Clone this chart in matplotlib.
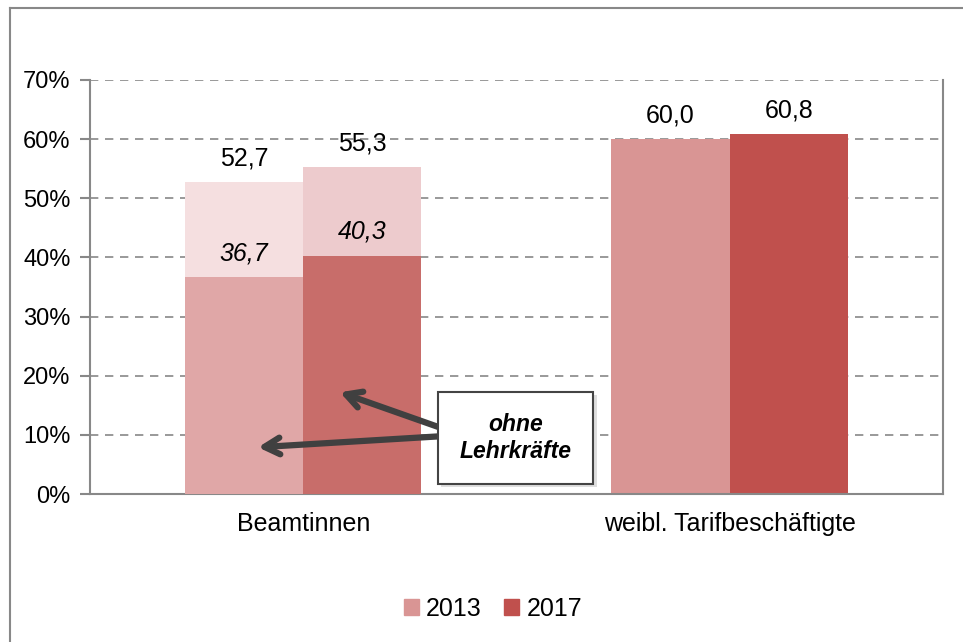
import matplotlib
matplotlib.use('Agg')
import matplotlib.pyplot as plt
from matplotlib.patches import Patch, Rectangle
from matplotlib.lines import Line2D
from matplotlib.ticker import FuncFormatter

plt.rcParams['font.family'] = ['Liberation Sans', 'DejaVu Sans']

# Daten
kategorien = ['Beamtinnen', 'weibl. Tarifbeschäftigte']
jahre = ['2013', '2017']
gesamt_2013 = [52.7, 60.0]
gesamt_2017 = [55.3, 60.8]
ohne_lehr_2013 = [36.7, None]
ohne_lehr_2017 = [40.3, None]

farbe_2013 = '#D99594'
farbe_2017 = '#C0504D'

fig = plt.figure(figsize=(9.63, 6.42), dpi=100)
ax = fig.add_axes([0.0935, 0.2305, 0.8855, 0.6449])

breite = 0.277
x = [0, 1]

# Beamtinnen: gesamt hell, ohne Lehrkraefte darueber
ax.bar(x[0] - breite/2, gesamt_2013[0], breite, color='#F5DFE0', zorder=2)
ax.bar(x[0] + breite/2, gesamt_2017[0], breite, color='#EDCBCD', zorder=2)
ax.bar(x[0] - breite/2, ohne_lehr_2013[0], breite, color='#E0A7A7', zorder=3)
ax.bar(x[0] + breite/2, ohne_lehr_2017[0], breite, color='#C86D6A', zorder=3)
# Tarifbeschaeftigte
ax.bar(x[1] - breite/2, gesamt_2013[1], breite, color=farbe_2013, zorder=2)
ax.bar(x[1] + breite/2, gesamt_2017[1], breite, color=farbe_2017, zorder=2)

def fmt(v):
    return f"{v:.1f}".replace('.', ',')

for i in range(2):
    ax.text(x[i] - breite/2, gesamt_2013[i] + 4.0, fmt(gesamt_2013[i]),
            ha='center', va='center', fontsize=18)
    ax.text(x[i] + breite/2, gesamt_2017[i] + 4.0, fmt(gesamt_2017[i]),
            ha='center', va='center', fontsize=18)
ax.text(x[0] - breite/2, ohne_lehr_2013[0] + 4.0, fmt(ohne_lehr_2013[0]),
        ha='center', va='center', fontsize=18, style='italic')
ax.text(x[0] + breite/2, ohne_lehr_2017[0] + 4.0, fmt(ohne_lehr_2017[0]),
        ha='center', va='center', fontsize=18, style='italic')

ax.set_xlim(-0.5, 1.5)
ax.set_ylim(0, 70)
ax.set_yticks(range(0, 71, 10))
ax.yaxis.set_major_formatter(FuncFormatter(lambda v, p: f"{int(v)}%"))
ax.set_xticks(x)
ax.set_xticklabels(kategorien)
ax.tick_params(axis='x', length=0, pad=13, labelsize=18)
ax.tick_params(axis='y', length=7, color='#888888', width=1.5, labelsize=17, pad=7)
ax.yaxis.grid(True, color='#888888', linestyle=(0, (5, 4)), linewidth=1.2, zorder=0)
ax.set_axisbelow(True)
for s in ['left', 'right', 'bottom']:
    ax.spines[s].set_color('#888888')
    ax.spines[s].set_linewidth(1.5)
ax.spines['top'].set_visible(False)

# Pfeile und Kasten
pfeil = dict(arrowstyle='->,head_length=1.1,head_width=0.6', color='#404040',
             lw=4.5, shrinkA=0, shrinkB=0)
ax.annotate('', xy=(0.086, 17.2), xytext=(0.33, 11.0), arrowprops=pfeil, zorder=5)
ax.annotate('', xy=(-0.106, 7.9), xytext=(0.33, 9.8), arrowprops=pfeil, zorder=5)

ax.add_patch(Rectangle((0.323, 1.2), 0.366, 15.6, facecolor='#C8C8C8',
                       edgecolor='none', alpha=0.6, zorder=6))
ax.add_patch(Rectangle((0.316, 1.7), 0.364, 15.5, facecolor='white',
                       edgecolor='#444444', lw=1.5, zorder=7))
ax.text(0.498, 9.45, 'ohne\nLehrkräfte', ha='center', va='center', fontsize=16.5,
        fontweight='bold', style='italic', zorder=8, linespacing=1.2)

# Legende
handles = [Patch(color=farbe_2013, label=jahre[0]), Patch(color=farbe_2017, label=jahre[1])]
fig.legend(handles=handles, loc='center', bbox_to_anchor=(0.512, 0.052), ncol=2,
           frameon=False, fontsize=18, handlelength=0.6, handleheight=0.6,
           handletextpad=0.3, columnspacing=0.9)

# Rahmen
fig.add_artist(Line2D([0.0104, 0.0104], [0, 0.9875], color='#888888', lw=1.5))
fig.add_artist(Line2D([0.0104, 1.0], [0.9875, 0.9875], color='#888888', lw=1.5))

fig.savefig('out.png', dpi=100)
